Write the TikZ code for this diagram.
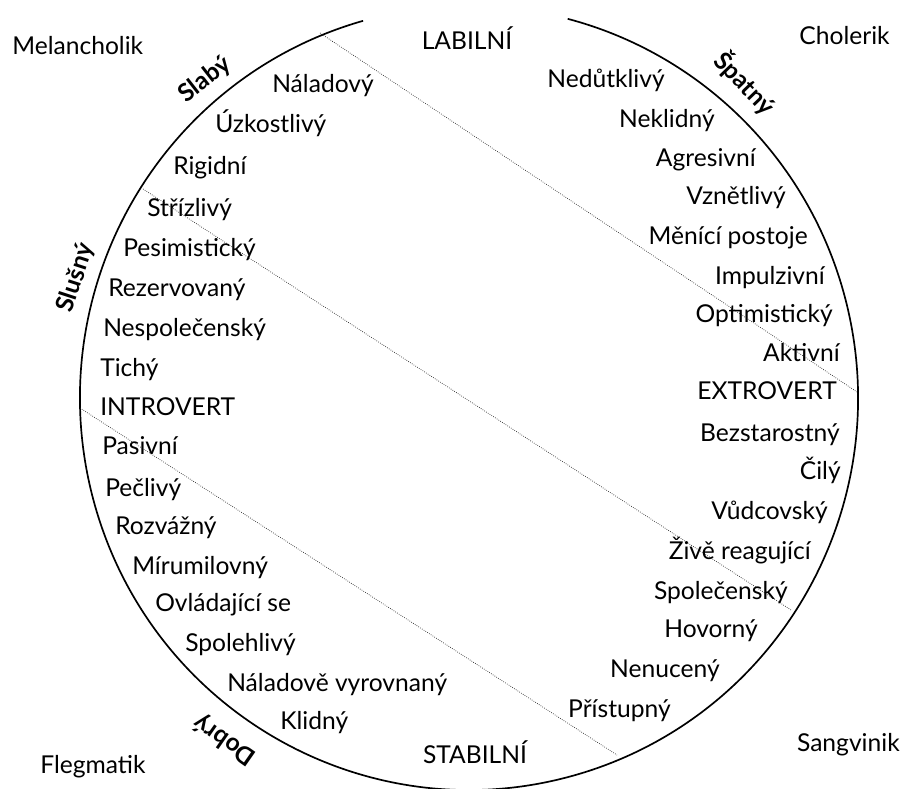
\documentclass[tikz,border=0pt]{standalone}
\usepackage{fontspec}
\setmainfont{Lato}

\begin{document}
\begin{tikzpicture}[
    x=0.025cm, y=0.025cm,
    every node/.style={font=\fontsize{17.5}{20}\selectfont, inner sep=0pt},
    trait/.style={anchor=base west},
    traitr/.style={anchor=base east},
    side/.style={font=\fontsize{17.5}{20}\selectfont\bfseries},
    divider/.style={densely dotted, line width=0.5pt, black!85}
]
    \useasboundingbox (0,0) rectangle (906,788);
    \clip (0,0) rectangle (906,788);

    % Circle, open at the top
    \coordinate (centre) at (469,390);
    \draw[line width=1.2pt] (centre) ++(105.8:389 and 392)
        arc[start angle=105.8, end angle=435.3, x radius=389, y radius=392];

    % Dotted dividing lines
    \coordinate (top-l) at (320,755);
    \coordinate (top-r) at (857,396);
    \coordinate (mid-l) at (143,599);
    \coordinate (mid-r) at (791,178);
    \coordinate (low-l) at (80,380);
    \coordinate (low-r) at (617,33);
    \draw[divider] (top-l) -- (top-r);
    \draw[divider] (mid-l) -- (mid-r);
    \draw[divider] (low-l) -- (low-r);

    % Temperaments in the corners
    \node[trait] (mel) at (12,733) {Melancholik};
    \node[traitr] (cho) at (890,743) {Cholerik};
    \node[trait] (fle) at (40,15) {Flegmatik};
    \node[traitr] (san) at (900,36) {Sangvinik};

    % Axis ends
    \node[anchor=base] (labil) at (467,738) {LABILNÍ};
    \node[anchor=base] (stabil) at (475,25) {STABILNÍ};

    % Labels along the rim
    \node[side, rotate=38] (slaby) at (205,708) {Slabý};
    \node[side, rotate=-46] (spatny) at (745,705) {Špatný};
    \node[side, rotate=72] (slusny) at (76,510) {Slušný};
    \node[side, rotate=145] (dobry) at (225,48) {Dobrý};

    % Left half
    \foreach \x/\y/\word [count=\i] in {272/695/Náladový, 215/655/Úzkostlivý,
        173/613/Rigidní, 147/571/Střízlivý, 123/531/Pesimistický,
        108/491/Rezervovaný, 103/451/Nespolečenský, 100/411/Tichý,
        100/372/INTROVERT, 102/333/Pasivní, 105/291/Pečlivý,
        115/253/Rozvážný, 132/213/Mírumilovný, 155/176/Ovládající se,
        185/136/Spolehlivý, 227/96/Náladově vyrovnaný, 280/58/Klidný}
        \node[trait] (left\i) at (\x,\y) {\word};

    % Right half
    \foreach \x/\y/\word [count=\i] in {665/700/Nedůtklivý, 715/660/Neklidný,
        756/621/Agresivní, 786/583/Vznětlivý, 808/543/Měnící postoje,
        825/503/Impulzivní, 833/465/Optimistický, 840/426/Aktivní,
        837/388/EXTROVERT, 840/346/Bezstarostný, 841/308/Čilý,
        828/268/Vůdcovský, 811/228/Živě reagující, 788/188/Společenský,
        758/150/Hovorný, 720/110/Nenucený, 671/70/Přístupný}
        \node[traitr] (right\i) at (\x,\y) {\word};

\end{tikzpicture}
\end{document}
